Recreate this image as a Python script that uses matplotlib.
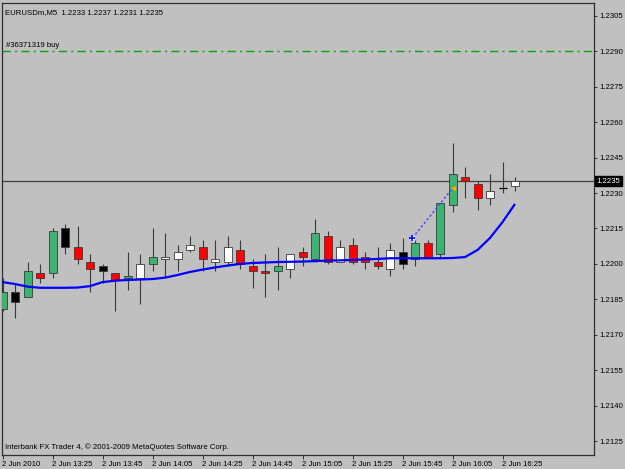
import matplotlib
matplotlib.use("Agg")
import matplotlib.pyplot as plt
import numpy as np

# ---------------- data ----------------
symbol_title = "EURUSDm,M5  1.2233 1.2237 1.2231 1.2235"
time_labels = ["2 Jun 2010", "2 Jun 13:25", "2 Jun 13:45", "2 Jun 14:05", "2 Jun 14:25",
               "2 Jun 14:45", "2 Jun 15:05", "2 Jun 15:25", "2 Jun 15:45", "2 Jun 16:05",
               "2 Jun 16:25"]
label_every = 4

opens = [1.2181, 1.2188, 1.2186, 1.2196, 1.2196, 1.2215, 1.2207, 1.2201, 1.2199, 1.2196,
         1.2194, 1.2194, 1.2200, 1.2202, 1.2202, 1.2206, 1.2207, 1.2201, 1.2201, 1.2206,
         1.2199, 1.2197, 1.2197, 1.2198, 1.2205, 1.2202, 1.2212, 1.2201, 1.2208, 1.2203,
         1.2201, 1.2198, 1.2205, 1.2202, 1.2209, 1.2204, 1.2225, 1.2237, 1.2234, 1.2228,
         1.2232, 1.2233]
highs = [1.2194, 1.2192, 1.2201, 1.2200, 1.2215, 1.2217, 1.2216, 1.2204, 1.2200, 1.2196,
         1.2205, 1.2204, 1.2215, 1.2213, 1.2208, 1.2212, 1.2210, 1.2210, 1.2212, 1.2210,
         1.2202, 1.2204, 1.2207, 1.2204, 1.2207, 1.2219, 1.2214, 1.2210, 1.2211, 1.2205,
         1.2207, 1.2209, 1.2211, 1.2211, 1.2210, 1.2226, 1.2251, 1.2241, 1.2235, 1.2238,
         1.2243, 1.2237]
lows = [1.2180, 1.2177, 1.2186, 1.2192, 1.2194, 1.2204, 1.2200, 1.2188, 1.2192, 1.2180,
        1.2189, 1.2183, 1.2197, 1.2194, 1.2197, 1.2205, 1.2197, 1.2197, 1.2199, 1.2198,
        1.2190, 1.2186, 1.2189, 1.2194, 1.2199, 1.2201, 1.2200, 1.2201, 1.2200, 1.2198,
        1.2198, 1.2195, 1.2198, 1.2199, 1.2203, 1.2203, 1.2222, 1.2228, 1.2223, 1.2225,
        1.2230, 1.2231]
closes = [1.2188, 1.2184, 1.2197, 1.2194, 1.2214, 1.2207, 1.2202, 1.2198, 1.2197, 1.2193,
          1.2195, 1.2200, 1.2203, 1.2203, 1.2205, 1.2208, 1.2202, 1.2202, 1.2207, 1.2200,
          1.2197, 1.2196, 1.2199, 1.2204, 1.2203, 1.2213, 1.2201, 1.2207, 1.2201, 1.2201,
          1.2199, 1.2206, 1.2200, 1.2209, 1.2203, 1.2226, 1.2238, 1.2235, 1.2228, 1.2231,
          1.2232, 1.2235]
kinds = ["g", "k", "g", "r", "g", "k", "r", "r", "k", "r",
         "g", "w", "g", "w", "w", "w", "r", "w", "w", "r",
         "r", "r", "g", "w", "r", "g", "r", "w", "r", "r",
         "r", "w", "k", "g", "r", "g", "g", "r", "r", "w",
         "d", "w"]
ma = [1.21923, 1.21915, 1.21904, 1.21899, 1.21899, 1.21899, 1.21900, 1.21906, 1.21923, 1.21929,
      1.21932, 1.21934, 1.21936, 1.21942, 1.21953, 1.21966, 1.21976, 1.21985, 1.21993, 1.22000,
      1.22004, 1.22006, 1.22008, 1.22009, 1.22010, 1.22012, 1.22014, 1.22015, 1.22017, 1.22019,
      1.22021, 1.22024, 1.22024, 1.22024, 1.22024, 1.22024, 1.22025, 1.22029, 1.22059, 1.22110,
      1.22177, 1.22254]

bid_price = 1.2235
order_price = 1.2290
order_label = "#36371319 buy"
trade_x = [32.8, 36.0]
trade_y = [1.2211, 1.2232]
y_ticks = [1.2305, 1.2290, 1.2275, 1.2260, 1.2245, 1.2230, 1.2215, 1.2200,
           1.2185, 1.2170, 1.2155, 1.2140, 1.2125]
footer = "Interbank FX Trader 4, \u00a9 2001-2009 MetaQuotes Software Corp."

# ---------------- styling ----------------
BG = "#C0C0C0"
FRAME = "#303030"
body_colors = {"g": "#3CB371", "r": "#FF0000", "k": "#000000", "w": "#FFFFFF"}
FONT = ["Liberation Sans", "DejaVu Sans"]
FS = 5.6

plt.rcParams["font.family"] = FONT

W, H = 625, 469
fig = plt.figure(figsize=(W / 100, H / 100), dpi=100, facecolor=BG)
ax = fig.add_axes([2 / W, 1 - 455 / H, (594 - 2) / W, (455 - 2.7) / H])
ax.set_facecolor(BG)

n = len(opens)
x = np.arange(n)
body_w = 0.64

# wicks
ax.vlines(x, lows, highs, color="#3a3a3a", lw=0.8, zorder=2)

# bodies
for i in range(n):
    o, c, k = opens[i], closes[i], kinds[i]
    if k == "d":
        ax.hlines(o, i - body_w / 2, i + body_w / 2, color="#000000", lw=0.9, zorder=3)
        continue
    bottom = min(o, c)
    height = max(abs(c - o), 0.00004)
    ax.bar(i, height, bottom=bottom, width=body_w, color=body_colors[k],
           edgecolor="#3a3a3a", linewidth=0.6, zorder=3)

# moving average
ax.plot(np.concatenate([[-0.05], x]), [ma[0]] + ma, color="#0000FF", lw=1.6, zorder=5,
        solid_capstyle="butt")

# current bid line
ax.axhline(bid_price, color="#404040", lw=0.9, zorder=1)

# order line
ax.axhline(order_price, color="#12A012", lw=1.0, zorder=1, dashes=(6, 3, 1.5, 3))
ax.text(0.25, order_price + 0.00008, order_label, fontsize=FS, color="#000000",
        ha="left", va="bottom", zorder=6)

# trade arrow
ax.plot(trade_x, trade_y, color="#4a4aff", lw=1.1, dashes=(1.5, 1.5), zorder=6)
ax.scatter([trade_x[0]], [trade_y[0]], s=22, facecolor="#f0f0ff", edgecolor="#b0b0ff",
           lw=0.6, zorder=7)
ax.scatter([trade_x[0]], [trade_y[0]], s=14, marker="+", color="#0000ff", lw=1.2, zorder=8)
ax.scatter([trade_x[1]], [trade_y[1]], s=16, marker="<", color="#FFA500", lw=0, zorder=8)

# axes limits
ax.set_xlim(-0.04, 47.32)
ax.set_ylim(1.21191, 1.23106)

# frame
for s in ax.spines.values():
    s.set_color(FRAME)
    s.set_linewidth(0.9)

# y axis on the right
ax.yaxis.tick_right()
ax.set_yticks(y_ticks)
ax.set_yticklabels([f"{v:.4f}" for v in y_ticks])
ax.tick_params(axis="y", direction="out", length=2.5, width=0.7, color=FRAME,
               labelsize=FS, pad=1.5, labelcolor="#000000")

# x axis
tick_pos = list(range(0, n, label_every))
ax.set_xticks(tick_pos)
ax.set_xticklabels(time_labels)
for lab in ax.get_xticklabels():
    lab.set_ha("left")
ax.tick_params(axis="x", direction="out", length=3, width=0.7, color=FRAME,
               labelsize=FS, pad=1.5, labelcolor="#000000")

# title and footer
ax.text(0.005, 0.987, symbol_title, transform=ax.transAxes, fontsize=FS,
        ha="left", va="top", color="#000000", zorder=6)
ax.text(0.005, 0.008, footer, transform=ax.transAxes, fontsize=FS,
        ha="left", va="bottom", color="#000000", zorder=6)

# bid price label on the price axis
ax.annotate(f"{bid_price:.4f}", xy=(1.004, bid_price), xycoords=("axes fraction", "data"),
            fontsize=FS, color="#FFFFFF", ha="left", va="center", zorder=10,
            annotation_clip=False,
            bbox=dict(boxstyle="square,pad=0.2", fc="#000000", ec="#000000"))

fig.savefig("out.png", dpi=100, facecolor=BG)
